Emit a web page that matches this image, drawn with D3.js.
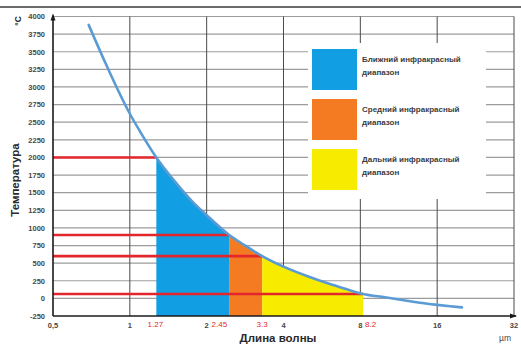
<!DOCTYPE html>
<html>
<head>
<meta charset="utf-8">
<script src="https://cdn.jsdelivr.net/npm/d3@7"></script>
<style>
  html, body { margin: 0; padding: 0; background: #fff; }
  svg { display: block; font-family: "Liberation Sans", Arial, sans-serif; }
</style>
</head>
<body>
<svg id="chart" width="521" height="345"></svg>
<script>
// Wavelength (µm) and temperature (°C) along the radiation curve
const wavelengths = [0.69, 0.8, 0.9, 1.0, 1.1, 1.27, 1.5, 1.75, 2.0, 2.45, 2.8, 3.3, 4.0, 5.0, 6.0, 7.0, 8.2, 10, 12, 14, 16, 18, 20];
const temperatures = [3880, 3350, 2950, 2620, 2360, 2000, 1660, 1380, 1180, 900, 760, 600, 450, 310, 210, 135, 62, 15, -30, -66, -92, -112, -128];

// Band boundaries and their marked temperatures
const boundaries = [1.27, 2.45, 3.3, 8.2];
const boundaryLabels = ["1.27", "2.45", "3.3", "8.2"];
const boundaryTemps = [2000, 900, 600, 62];

// Infrared bands
const bandNames = [["Ближний инфракрасный", "диапазон"], ["Средний инфракрасный", "диапазон"], ["Дальний инфракрасный", "диапазон"]];
const bandColors = ["#129ee2", "#f47b22", "#f7ec00"];

// Axis ticks
const xTicks = [0.5, 1, 2, 4, 8, 16, 32];
const xTickLabels = ["0,5", "1", "2", "4", "8", "16", "32"];
const yTicks = d3.range(-250, 4001, 250);

const svg = d3.select("#chart");
const plotLeft = 53, plotRight = 514, plotTop = 16.5, plotBottom = 316;

const x = d3.scaleLog().base(2).domain([0.5, 32]).range([plotLeft, plotRight]);
const y = d3.scaleLinear().domain([-250, 4000]).range([plotBottom, plotTop]);

const points = wavelengths.map((w, i) => ({ w, t: temperatures[i] }));

// Frame line across the top
svg.append("line").attr("x1", 0).attr("x2", 521).attr("y1", 7).attr("y2", 7)
  .attr("stroke", "#3a3a3a").attr("stroke-width", 1.6);

// Horizontal grid
svg.append("g").selectAll("line").data(yTicks.filter(v => v > -250)).join("line")
  .attr("x1", plotLeft).attr("x2", plotRight)
  .attr("y1", d => y(d)).attr("y2", d => y(d))
  .attr("stroke", "#9c9c9c").attr("stroke-width", 1.2);

// Vertical grid
svg.append("g").selectAll("line").data(xTicks.slice(1)).join("line")
  .attr("x1", d => x(d)).attr("x2", d => x(d))
  .attr("y1", plotTop).attr("y2", plotBottom)
  .attr("stroke", "#4a4a4a").attr("stroke-width", 1);

// Filled bands under the curve
const area = d3.area().x(d => x(d.w)).y0(y(-250)).y1(d => y(d.t)).curve(d3.curveMonotoneX);
for (let i = 0; i < 3; i++) {
  const a = boundaries[i], b = boundaries[i + 1];
  const seg = points.filter(p => p.w >= a && p.w <= b);
  svg.append("path").datum(seg).attr("d", area).attr("fill", bandColors[i]);
}

// Red guide lines from the axis to each boundary
svg.append("g").selectAll("line").data(boundaries).join("line")
  .attr("x1", plotLeft).attr("x2", d => x(d))
  .attr("y1", (d, i) => y(boundaryTemps[i])).attr("y2", (d, i) => y(boundaryTemps[i]))
  .attr("stroke", "#e3262c").attr("stroke-width", 2.6);

// Curve
const line = d3.line().x(d => x(d.w)).y(d => y(d.t)).curve(d3.curveMonotoneX);
svg.append("path").datum(points).attr("d", line)
  .attr("fill", "none").attr("stroke", "#5b9bd5").attr("stroke-width", 2.6)
  .attr("stroke-linecap", "round");

// Legend
const lg = svg.append("g");
lg.append("rect").attr("x", 308).attr("y", 43).attr("width", 178).attr("height", 156).attr("fill", "#fff");
bandNames.forEach((name, i) => {
  const yy = 49 + i * 50;
  lg.append("rect").attr("x", 312).attr("y", yy).attr("width", 45).attr("height", 41).attr("fill", bandColors[i]);
  name.forEach((s, j) => {
    lg.append("text").attr("x", 362).attr("y", yy + 13 + j * 13)
      .attr("font-size", 8).attr("font-weight", "bold").attr("fill", "#3c3c3c").text(s);
  });
});

// Axes with arrows
const axisColor = "#1a1a1a";
svg.append("line").attr("x1", plotLeft).attr("x2", plotLeft).attr("y1", plotBottom).attr("y2", plotTop - 1)
  .attr("stroke", axisColor).attr("stroke-width", 1.6);
svg.append("path").attr("d", `M${plotLeft - 2.5},${plotTop + 4} L${plotLeft},${plotTop - 3} L${plotLeft + 2.5},${plotTop + 4} Z`).attr("fill", axisColor);
svg.append("line").attr("x1", plotLeft).attr("x2", plotRight + 2).attr("y1", plotBottom).attr("y2", plotBottom)
  .attr("stroke", axisColor).attr("stroke-width", 1.6);
svg.append("path").attr("d", `M${plotRight - 4},${plotBottom - 2.5} L${plotRight + 3},${plotBottom} L${plotRight - 4},${plotBottom + 2.5} Z`).attr("fill", axisColor);

// Y tick labels
svg.append("g").selectAll("text").data(yTicks).join("text")
  .attr("x", 45).attr("y", d => y(d) + 2.8).attr("text-anchor", "end")
  .attr("font-size", 7.5).attr("font-weight", "bold").attr("fill", "#474747")
  .text(d => d);

// X tick labels
svg.append("g").selectAll("text").data(xTicks).join("text")
  .attr("x", d => x(d)).attr("y", 328).attr("text-anchor", "middle")
  .attr("font-size", 7.5).attr("font-weight", "bold").attr("fill", "#474747")
  .text((d, i) => xTickLabels[i]);

// Boundary labels
const anchors = ["middle", "end", "middle", "start"];
const shifts = [-1, -2, 0, 2];
svg.append("g").selectAll("text").data(boundaries).join("text")
  .attr("x", (d, i) => x(d) + shifts[i]).attr("y", 327).attr("text-anchor", (d, i) => anchors[i])
  .attr("font-size", 8).attr("fill", "#e3262c")
  .text((d, i) => boundaryLabels[i]);

// Axis titles
svg.append("text").attr("x", 278).attr("y", 342).attr("text-anchor", "middle")
  .attr("font-size", 11.5).attr("font-weight", "bold").attr("fill", "#2a2a2a").text("Длина волны");
svg.append("text").attr("x", 505).attr("y", 341).attr("text-anchor", "middle")
  .attr("font-size", 8.5).attr("fill", "#474747").text("µm");
svg.append("text").attr("transform", "translate(19,180) rotate(-90)").attr("text-anchor", "middle")
  .attr("font-size", 11.5).attr("font-weight", "bold").attr("fill", "#2a2a2a").text("Температура");
svg.append("text").attr("transform", "translate(21,21) rotate(-90)").attr("text-anchor", "middle")
  .attr("font-size", 8.5).attr("font-weight", "bold").attr("fill", "#2a2a2a").text("°C");
</script>
</body>
</html>
